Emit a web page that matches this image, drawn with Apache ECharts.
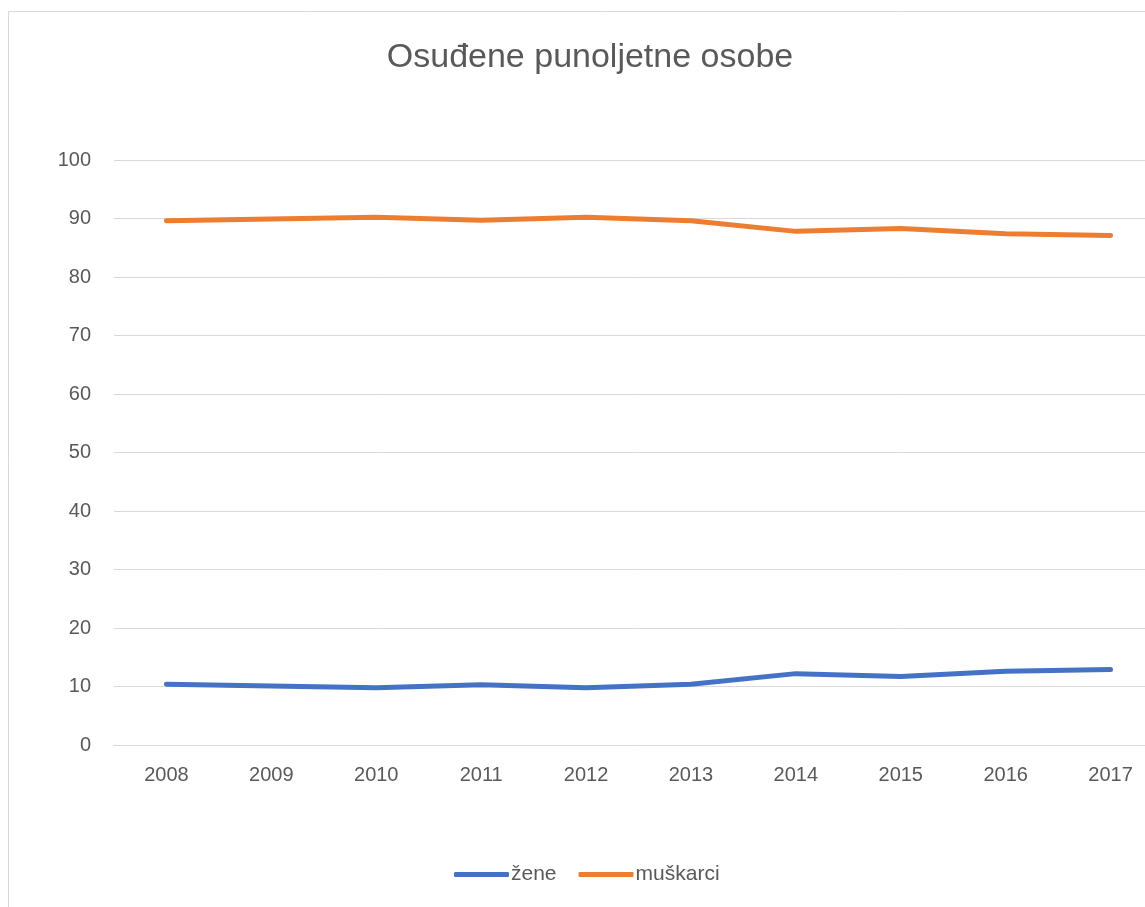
<!DOCTYPE html>
<html>
<head>
<meta charset="utf-8">
<script src="https://cdn.jsdelivr.net/npm/echarts@6/dist/echarts.min.js"></script>
<style>
  html, body { margin: 0; padding: 0; background: #fff; overflow: hidden; }
  #chart { width: 1200px; height: 907px; }
</style>
</head>
<body>
<div id="chart"></div>
<script>
// godine i udjeli (%)
const years = ['2008', '2009', '2010', '2011', '2012', '2013', '2014', '2015', '2016', '2017']
const zene = [10.4, 10.1, 9.8, 10.3, 9.8, 10.4, 12.2, 11.7, 12.6, 12.9]
const muskarci = [89.6, 89.9, 90.2, 89.7, 90.2, 89.6, 87.8, 88.3, 87.4, 87.1]

const textColor = '#595959'
const gridColor = '#d9d9d9'
const font = 'Liberation Sans'

const chart = echarts.init(document.getElementById('chart'))
chart.setOption({
  animation: false,
  graphic: [{
    type: 'rect',
    shape: { x: 8.5, y: 11.5, width: 1300, height: 1000 },
    style: { fill: 'none', stroke: gridColor, lineWidth: 1 },
    silent: true
  }],
  title: {
    text: 'Osuđene punoljetne osobe',
    left: 585, top: 36, textAlign: 'center',
    textStyle: { color: textColor, fontSize: 34, fontWeight: 'normal', fontFamily: font }
  },
  legend: {
    top: 859, left: 449,
    itemWidth: 55, itemHeight: 5, itemGap: 22,
    icon: 'roundRect',
    textStyle: { color: textColor, fontSize: 21, fontFamily: font, padding: [0, 0, 0, -3] },
    data: ['žene', 'muškarci']
  },
  grid: { left: 114, width: 1049, top: 160, bottom: 162, containLabel: false },
  xAxis: {
    type: 'category',
    data: years,
    boundaryGap: true,
    axisLine: { lineStyle: { color: gridColor, width: 1 } },
    axisTick: { show: false },
    axisLabel: { color: textColor, fontSize: 20, margin: 20, fontFamily: font }
  },
  yAxis: {
    type: 'value',
    min: 0, max: 100, interval: 10,
    axisLine: { show: false },
    axisTick: { show: false },
    axisLabel: { color: textColor, fontSize: 20, margin: 23, fontFamily: font },
    splitLine: { lineStyle: { color: gridColor, width: 1 } }
  },
  series: [
    {
      name: 'žene', type: 'line', data: zene,
      showSymbol: false, symbol: 'none',
      lineStyle: { color: '#4472c4', width: 5, cap: 'round', join: 'round' },
      itemStyle: { color: '#4472c4' }
    },
    {
      name: 'muškarci', type: 'line', data: muskarci,
      showSymbol: false, symbol: 'none',
      lineStyle: { color: '#ed7d31', width: 5, cap: 'round', join: 'round' },
      itemStyle: { color: '#ed7d31' }
    }
  ]
})
</script>
</body>
</html>
